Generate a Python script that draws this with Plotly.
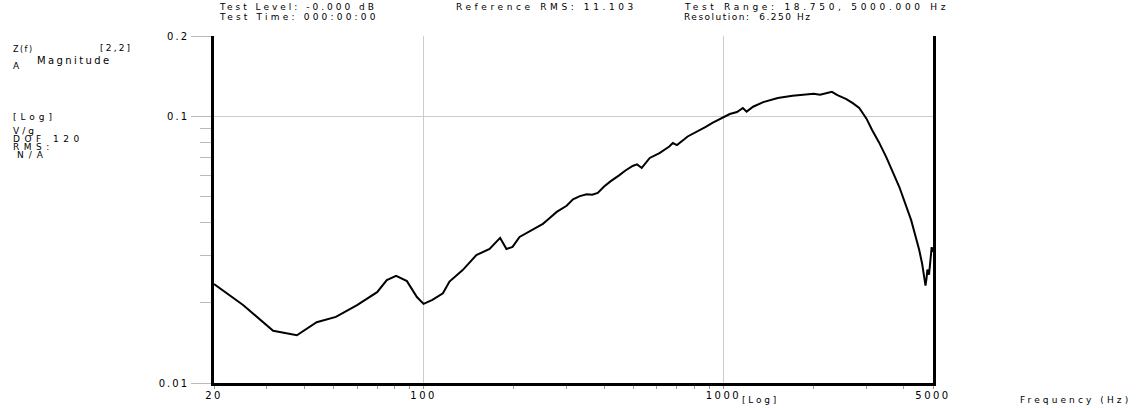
import plotly.graph_objects as go

# ---- data ----
freq_hz = [20, 25, 31.5, 37.8, 44, 51, 60, 70, 75.4, 81, 88, 95, 100, 107, 116, 122,
           135, 150, 166, 180, 189, 198, 209, 238, 250, 260, 278, 300, 315, 332, 350,
           365, 381, 400, 420, 450, 470, 498, 515, 534, 568, 612, 640, 660, 678, 700,
           760, 814, 870, 919, 1000, 1050, 1110, 1161, 1195, 1256, 1358, 1518, 1700,
           1890, 2000, 2100, 2200, 2300, 2400, 2570, 2700, 2838, 3000, 3132, 3300, 3492,
           3861, 4228, 4498, 4600, 4672, 4720, 4760, 4790, 4850, 4900, 4950, 5000]
magnitude = [0.0235, 0.0196, 0.0157, 0.0151, 0.0169, 0.0177, 0.0196, 0.0219, 0.0243, 0.0252,
             0.0241, 0.0210, 0.0198, 0.0205, 0.0217, 0.0240,
             0.0265, 0.0302, 0.0318, 0.0350, 0.0318, 0.0324, 0.0353, 0.0384, 0.0395, 0.0410,
             0.0438, 0.0462, 0.0488, 0.0502, 0.0510,
             0.0508, 0.0516, 0.0545, 0.0570, 0.0602, 0.0625, 0.0651, 0.0660, 0.0640, 0.0698,
             0.0728, 0.0755, 0.0770, 0.0794, 0.0780,
             0.0840, 0.0873, 0.0910, 0.0944, 0.0994, 0.1020, 0.1038, 0.1074, 0.1041, 0.1086,
             0.1130, 0.1170, 0.1195,
             0.1210, 0.1215, 0.1205, 0.1220, 0.1235, 0.1200, 0.1160, 0.1120, 0.1074, 0.0980,
             0.0888, 0.0800, 0.0703,
             0.0543, 0.0408, 0.0315, 0.0280, 0.0250, 0.0232, 0.0248, 0.0266, 0.0255, 0.0300,
             0.0323, 0.0310]

x_tick_vals = [20, 100, 1000, 5000]
x_tick_text = ["20", "100", "1000", "5000"]
x_minor_vals = [30, 40, 50, 60, 70, 80, 90, 200, 300, 400, 500, 600, 700, 800, 900,
                2000, 3000, 4000]
y_tick_vals = [0.01, 0.1, 0.2]
y_tick_text = ["0.01", "0.1", "0.2"]
y_minor_vals = [0.02, 0.03, 0.04, 0.05, 0.06, 0.07, 0.08, 0.09]

# ---- layout geometry (pixels) ----
W, H = 1136, 408
L, R, T, B = 214, 933, 36, 383


def px(xp):
    return (xp - L) / (R - L)


def py(yp):
    return (B - yp) / (B - T)


def wide(text, ls):
    return '<span style="letter-spacing:%spx">%s</span>' % (ls, text)


FONT = "DejaVu Sans"

fig = go.Figure()
fig.add_trace(go.Scatter(x=freq_hz, y=magnitude, mode="lines",
                         line=dict(color="black", width=2), showlegend=False,
                         hoverinfo="skip"))

fig.update_layout(
    width=W, height=H,
    margin=dict(l=L, r=W - R, t=T, b=H - B, pad=0, autoexpand=False),
    paper_bgcolor="white", plot_bgcolor="white",
    font=dict(family=FONT, size=10, color="black"),
    xaxis=dict(type="log", range=[1.30103, 3.69897], automargin=False,
               tickmode="array", tickvals=x_tick_vals,
               ticktext=[wide(t, 2.5) for t in x_tick_text],
               ticks="outside", ticklen=3, tickcolor="#999", tickwidth=1,
               ticklabelstandoff=-2,
               showgrid=True, gridcolor="#cccccc", gridwidth=1,
               showline=True, linecolor="black", linewidth=3,
               zeroline=False,
               tickfont=dict(family=FONT, size=10, color="black"),
               minor=dict(tickvals=x_minor_vals, ticks="outside", ticklen=3,
                          tickcolor="#999", showgrid=False)),
    yaxis=dict(type="log", range=[-2, -0.69897], automargin=False,
               tickmode="array", tickvals=y_tick_vals,
               ticktext=[wide(t, 2) for t in y_tick_text],
               ticks="outside", ticklen=20, tickcolor="#bbb", tickwidth=1,
               showgrid=True, gridcolor="#cccccc", gridwidth=1,
               showline=True, linecolor="black", linewidth=3, mirror=True,
               zeroline=False,
               tickfont=dict(family=FONT, size=10, color="black"),
               minor=dict(tickvals=y_minor_vals, ticks="outside", ticklen=11,
                          tickcolor="#bbb", showgrid=False)),
)

# (text, x px, y px, font size, letter spacing)
texts = [
    ("Test Level: -0.000 dB", 217, 7, 9, 3.0),
    ("Test Time: 000:00:00", 217, 17, 9, 3.2),
    ("Reference RMS: 11.103", 454, 7, 9, 3.6),
    ("Test Range: 18.750, 5000.000 Hz", 682, 7, 9, 3.7),
    ("Resolution:  6.250 Hz", 682, 17, 9, 1.5),
    ("Z(f)", 11, 49, 8, 1.5),
    ("[2,2]", 98, 48, 9, 2.2),
    ("Magnitude", 35, 60, 10, 2.4),
    ("A", 11, 66, 9, 1),
    ("[Log]", 11, 117, 9, 4),
    ("V/g", 11, 131, 9, 3),
    ("DOF 120", 11, 139, 9, 4.5),
    ("RMS:", 11, 147, 9, 4.5),
    ("N/A", 15, 155, 9, 5),
    ("[Log]", 740, 400, 9, 2.8),
    ("Frequency (Hz)", 1018, 400, 9, 3.1),
]
for t, xp, yp, fs, ls in texts:
    fig.add_annotation(text=wide(t, ls), x=px(xp), y=py(yp), xref="paper", yref="paper",
                       xanchor="left", yanchor="middle", showarrow=False,
                       font=dict(family=FONT, size=fs, color="black"))

fig.write_html("out.html", config={"displayModeBar": False},
               post_script="document.body.style.margin='0';")
